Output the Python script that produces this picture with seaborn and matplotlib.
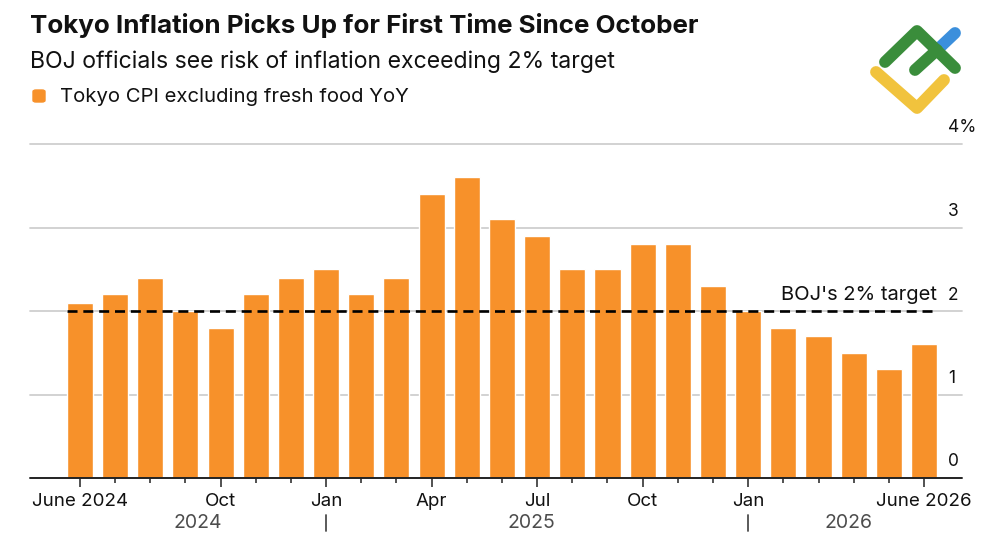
import matplotlib
matplotlib.use("Agg")
import matplotlib.pyplot as plt
import matplotlib.transforms as mtransforms
from matplotlib.lines import Line2D
from matplotlib.patches import FancyBboxPatch
import pandas as pd
import seaborn as sns

# Tokyo CPI excluding fresh food, YoY %
months = [
    "Jun 2024", "Jul 2024", "Aug 2024", "Sep 2024", "Oct 2024", "Nov 2024", "Dec 2024",
    "Jan 2025", "Feb 2025", "Mar 2025", "Apr 2025", "May 2025", "Jun 2025", "Jul 2025",
    "Aug 2025", "Sep 2025", "Oct 2025", "Nov 2025", "Dec 2025",
    "Jan 2026", "Feb 2026", "Mar 2026", "Apr 2026", "May 2026", "Jun 2026",
]
cpi = [2.1, 2.2, 2.4, 2.0, 1.8, 2.2, 2.4, 2.5, 2.2, 2.4, 3.4, 3.6, 3.1, 2.9,
       2.5, 2.5, 2.8, 2.8, 2.3, 2.0, 1.8, 1.7, 1.5, 1.3, 1.6]

tick_months = ["Jun 2024", "Oct 2024", "Jan 2025", "Apr 2025", "Jul 2025",
               "Oct 2025", "Jan 2026", "Jun 2026"]
tick_labels = ["June 2024", "Oct", "Jan", "Apr", "Jul", "Oct", "Jan", "June 2026"]
years = ["2024", "2025", "2026"]

y_ticks = [0, 1, 2, 3, 4]
y_labels = ["0", "1", "2", "3", "4%"]
target = 2.0
target_label = "BOJ's 2% target"

title = "Tokyo Inflation Picks Up for First Time Since October"
subtitle = "BOJ officials see risk of inflation exceeding 2% target"
series_name = "Tokyo CPI excluding fresh food YoY"

ORANGE = "#F7912A"
GRID = "#cfcfcf"
BAR_W = 0.74

sns.set_theme(style="white")
plt.rcParams["font.family"] = ["Inter", "Liberation Sans", "DejaVu Sans"]

df = pd.DataFrame({"month": months, "cpi": cpi})

W, H = 1000, 545
fig = plt.figure(figsize=(W / 100, H / 100), dpi=100)
ax = fig.add_axes([30 / W, 1 - 478 / H, 932 / W, 334 / H])

sns.barplot(data=df, x="month", y="cpi", color=ORANGE, saturation=1,
            width=BAR_W, ax=ax, zorder=2)

ax.set_xlim(-1.42, len(months) + 0.08)
ax.set_ylim(0, 4)
for s in ax.spines.values():
    s.set_visible(False)
ax.set_xlabel("")
ax.set_ylabel("")
ax.set_yticks([])

for v in y_ticks[1:]:
    ax.axhline(v, color=GRID, lw=1.3, zorder=0, clip_on=False)
ax.axhline(0, color="#222222", lw=1.4, zorder=3, clip_on=False)

# y labels sit above their gridlines at the right
lab_tr = mtransforms.offset_copy(ax.get_yaxis_transform(), fig=fig, x=0, y=16, units="dots")
for v, lab in zip(y_ticks, y_labels):
    ax.text((948 - 30) / 932, v, lab, transform=lab_tr, ha="left", va="center",
            fontsize=12.5, color="#111111")

# month ticks
pos = {m: i for i, m in enumerate(months)}
ax.set_xticks([pos[m] for m in tick_months], tick_labels)
ax.set_xticks(range(len(months)), minor=True)
ax.tick_params(axis="x", which="major", length=6.5, width=1.1, color="#222222",
               pad=4, labelsize=13.5, labelcolor="#111111", bottom=True)
ax.tick_params(axis="x", which="minor", length=3.6, width=1.1, color="#222222",
               bottom=True)

# target line
n = len(months)
ax.hlines(target, -BAR_W / 2, n - 1 + BAR_W / 2, colors="black", lw=1.9,
          linestyles=(0, (3.8, 2.2)), zorder=4)
txt_tr = mtransforms.offset_copy(ax.transData, fig=fig, x=0, y=7, units="dots")
ax.text(n - 1 + BAR_W / 2, target, target_label, transform=txt_tr, ha="right",
        va="bottom", fontsize=14.5, color="#111111")

# year row
xtr = ax.get_xaxis_transform()
for y in years:
    idx = [i for i, m in enumerate(months) if m.endswith(y)]
    c = sum(idx) / len(idx) + 0.35
    ax.text(c, (478 - 528) / 334, y, transform=xtr, ha="center", va="baseline",
            fontsize=14, color="#4d4d4d", clip_on=False)
for y in years[1:]:
    i = pos["Jan " + y]
    ax.plot([i, i], [(478 - 515) / 334, (478 - 531) / 334], transform=xtr,
            color="#4d4d4d", lw=1.3, clip_on=False)

# header
fig.text(30 / W, 1 - 33 / H, title, fontsize=18.7, fontweight="bold",
         va="baseline", ha="left", color="#111111")
fig.text(30 / W, 1 - 68 / H, subtitle, fontsize=16.6, va="baseline", ha="left",
         color="#111111")
fig.patches.append(FancyBboxPatch((33 / W, 1 - 102 / H), 12 / W, 12 / H,
                                  boxstyle="round,pad=0,rounding_size=0.003",
                                  transform=fig.transFigure, color=ORANGE))
fig.text(60 / W, 1 - 102 / H, series_name, fontsize=14.6, va="baseline",
         ha="left", color="#111111")


# logo
def fig_line(pts, color):
    xs = [p[0] / W for p in pts]
    ys = [1 - p[1] / H for p in pts]
    fig.add_artist(Line2D(xs, ys, transform=fig.transFigure, color=color, lw=8.5,
                          solid_capstyle="round", solid_joinstyle="round"))


fig_line([(936, 51), (955, 33)], "#3B8FDC")
fig_line([(876, 72), (917, 108), (944, 80)], "#F1C33D")
fig_line([(885, 62), (917, 31), (955, 68)], "#3A8D3B")
fig_line([(915, 70), (937, 50)], "#3A8D3B")

fig.savefig("out.png", dpi=100)
